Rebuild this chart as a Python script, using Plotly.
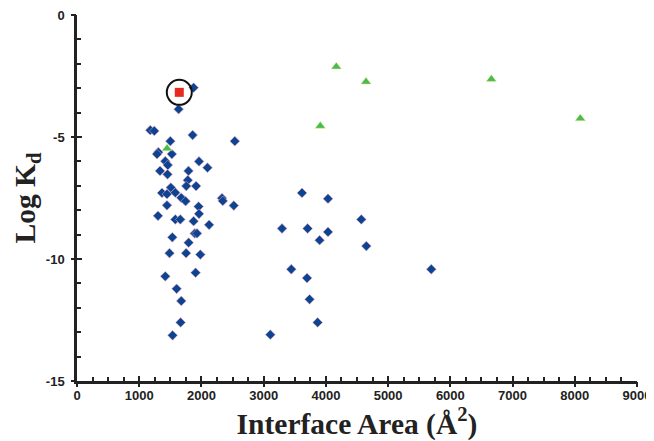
import plotly.graph_objects as go

# Blue diamonds (complexes)
blue_x = [1874, 1633, 1178, 1242, 1858, 2536, 1500, 1307, 1286, 1524,
          1419, 1459, 1961, 2097, 1334, 1455, 1792, 1781, 1757, 1914,
          1508, 1366, 1446, 1580, 1676, 1745, 2330, 2343, 1954, 2520,
          1446, 1302, 1580, 1660, 1961, 1874, 2123, 1893, 1929, 1532,
          1794, 1487, 1753, 1982, 1906, 1419, 1601, 1676, 1665, 1536,
          3616, 4034, 4569, 3295, 3706, 4034, 3899, 4650, 5694, 3444,
          3697, 3738, 3867, 3107]
blue_y = [-2.98, -3.86, -4.72, -4.75, -4.92, -5.17, -5.17, -5.62, -5.70, -5.70,
          -5.99, -6.15, -6.00, -6.26, -6.39, -6.53, -6.39, -6.77, -7.01, -7.01,
          -7.07, -7.29, -7.34, -7.28, -7.49, -7.63, -7.51, -7.62, -7.85, -7.81,
          -7.80, -8.23, -8.38, -8.38, -8.15, -8.45, -8.60, -8.95, -8.95, -9.11,
          -9.33, -9.76, -9.76, -9.82, -10.56, -10.71, -11.22, -11.72, -12.60, -13.13,
          -7.29, -7.53, -8.38, -8.75, -8.75, -8.89, -9.23, -9.47, -10.42, -10.42,
          -10.78, -11.65, -12.60, -13.10]

# Green triangles
green_x = [4167, 4645, 6659, 8089, 3910, 1447]
green_y = [-2.12, -2.74, -2.63, -4.24, -4.55, -5.47]

# Highlighted red square
red_x = [1644]
red_y = [-3.17]

x_ticks = [0, 1000, 2000, 3000, 4000, 5000, 6000, 7000, 8000, 9000]
y_ticks = [0, -5, -10, -15]

fig = go.Figure()

fig.add_trace(go.Scatter(
    x=blue_x, y=blue_y, mode="markers",
    marker=dict(symbol="diamond", size=7.5, color="#0b4592",
                line=dict(color="rgba(235,160,190,0.7)", width=0.8)),
    showlegend=False))

fig.add_trace(go.Scatter(
    x=green_x, y=green_y, mode="markers",
    marker=dict(symbol="triangle-up", size=9, color="#4cbb4f",
                line=dict(color="rgba(240,240,160,0.8)", width=0.6)),
    showlegend=False))

fig.add_trace(go.Scatter(
    x=red_x, y=red_y, mode="markers",
    marker=dict(symbol="circle-open", size=25, color="#111111",
                line=dict(color="#111111", width=2)),
    showlegend=False))

fig.add_trace(go.Scatter(
    x=red_x, y=red_y, mode="markers",
    marker=dict(symbol="square", size=9, color="#e8291f"),
    showlegend=False))

# invisible trace for the overlay axes (outer half of crossing major ticks)
fig.add_trace(go.Scatter(x=[None], y=[None], xaxis="x2", yaxis="y2",
                         mode="markers", showlegend=False, hoverinfo="skip"))

tickfont = dict(family="Liberation Sans, Arial, sans-serif", size=13,
                color="#222222", weight="bold")
titlefont = dict(family="Liberation Serif, Times New Roman, serif", size=29.5,
                 color="#222222", weight="bold")

fig.update_layout(
    width=646, height=433,
    margin=dict(l=69, r=17, t=7, b=60),
    paper_bgcolor="white", plot_bgcolor="white",
    xaxis=dict(
        range=[0, 9000], tickvals=x_ticks, ticktext=[str(v) for v in x_ticks],
        showgrid=False, zeroline=False, automargin=False,
        ticklabeloverflow="allow",
        showline=True, linecolor="#222222", linewidth=2.5,
        ticks="inside", ticklen=5, tickwidth=2, tickcolor="#222222",
        minor=dict(dtick=250, ticks="inside", ticklen=4, tickwidth=1.5,
                   tickcolor="#222222"),
        tickfont=tickfont, ticklabelstandoff=1,
        title=dict(text="Interface Area (Å<sup>2</sup>)", font=titlefont,
                   standoff=4),
    ),
    yaxis=dict(
        range=[-15, 0], tickvals=y_ticks, ticktext=[str(v) for v in y_ticks],
        showgrid=False, zeroline=False, automargin=False,
        ticklabeloverflow="allow",
        showline=True, linecolor="#222222", linewidth=2.5,
        ticks="inside", ticklen=5, tickwidth=2, tickcolor="#222222",
        minor=dict(dtick=1, ticks="inside", ticklen=4, tickwidth=1.5,
                   tickcolor="#222222"),
        tickfont=tickfont, ticklabelstandoff=7,
        title=dict(text="Log K<sub>d</sub>", font=titlefont, standoff=2),
    ),
    xaxis2=dict(
        overlaying="x", anchor="y2", side="bottom", range=[0, 9000],
        tickvals=x_ticks, showticklabels=False, showgrid=False,
        zeroline=False, showline=False, automargin=False,
        ticks="outside", ticklen=5, tickwidth=2, tickcolor="#222222",
    ),
    yaxis2=dict(
        overlaying="y", anchor="x2", side="left", range=[-15, 0],
        tickvals=y_ticks, showticklabels=False, showgrid=False,
        zeroline=False, showline=False, automargin=False,
        ticks="outside", ticklen=5, tickwidth=2, tickcolor="#222222",
    ),
)

fig.write_html("out.html")
